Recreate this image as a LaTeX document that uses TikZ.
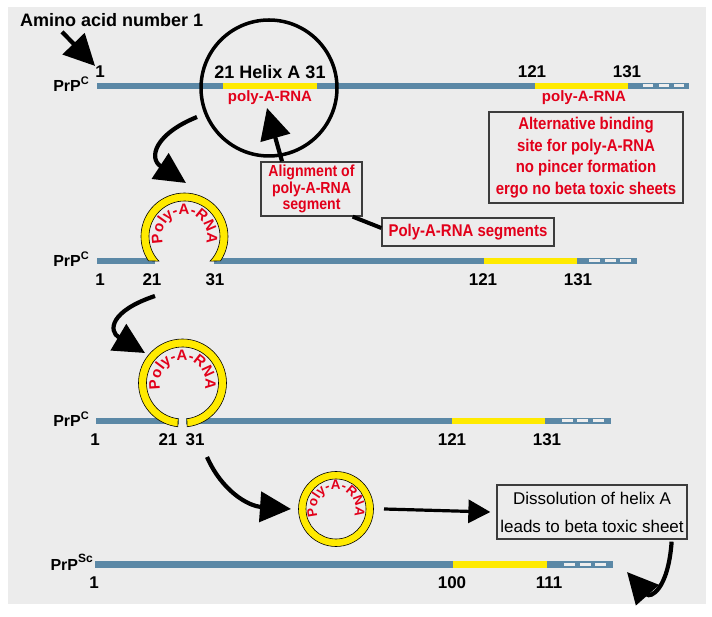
\documentclass[tikz,border=0pt]{standalone}
\usepackage{fontspec}
\setmainfont{Liberation Sans}
\newfontfamily\narrowfont[FakeStretch=0.88]{Liberation Sans}
\usetikzlibrary{arrows.meta,calc,decorations.text}

\definecolor{bgGray}{HTML}{ECECEC}
\definecolor{barBlue}{HTML}{5B88A6}
\definecolor{dashWhite}{HTML}{EEEEEE}
\definecolor{rnaYellow}{HTML}{FFEA00}
\definecolor{rnaRed}{HTML}{E2001A}
\definecolor{boxLine}{HTML}{3C3C3C}

\tikzset{
  num/.style={font=\bfseries\fontsize{17}{17}\selectfont, inner sep=0pt},
  prp/.style={font=\bfseries\fontsize{16}{16}\selectfont, inner sep=0pt, anchor=base east},
  rnalbl/.style={text=rnaRed, font=\bfseries\fontsize{15}{15}\selectfont, inner sep=0pt},
  redbox/.style={draw=boxLine, line width=1.3pt, text=rnaRed, align=center, inner sep=0pt},
  ringfill/.style={fill=rnaYellow, draw=black, line width=0.6pt},
  ringtext/.style={decorate, decoration={text along path, text align=center,
      text color=rnaRed, text={|\bfseries\fontsize{#1}{#1}\selectfont|Poly-A-RNA}}},
  bigarrow/.style={line width=4.2pt, -{Triangle[length=31pt,width=30pt]}},
  midarrow/.style={line width=3.2pt, -{Triangle[length=22pt,width=23pt]}}
}

\begin{document}
\begin{tikzpicture}[x=1pt,y=1pt]
  \useasboundingbox (0,0) rectangle (712,616);
  % grey panel
  \fill[bgGray] (8,12) rectangle (706,609);

  % ---- row 1: PrP^C, helix A ----
  \fill[barBlue] (97,527) rectangle (689,533);
  \fill[rnaYellow] (223,527) rectangle (317,533);
  \fill[rnaYellow] (535,527) rectangle (628,533);
  \foreach \x in {643,659,674} \fill[dashWhite] (\x,528.5) rectangle ++(10,3);
  \node[prp] (prp1) at (89,524) {PrP\raisebox{7pt}{\fontsize{11}{11}\selectfont C}};
  \node[num] (r1n1) at (100,544) {1};
  \node[font=\bfseries\fontsize{18}{18}\selectfont, inner sep=0pt] (helix) at (270,544) {21 Helix A 31};
  \node[num] (r1n121) at (532,544) {121};
  \node[num] (r1n131) at (627,544) {131};
  \node[rnalbl] (rna1) at (270,518) {poly-A-RNA};
  \node[rnalbl] (rna2) at (584,518) {poly-A-RNA};
  % circle round helix A
  \node[circle, draw, line width=3.5pt, minimum size=136pt, inner sep=0pt] (helixcirc) at (269,528) {};

  \node[anchor=west, font=\bfseries\fontsize{18}{18}\selectfont, inner sep=0pt] (amino) at (20,596) {Amino acid number 1};
  \draw[bigarrow] ($(amino.south west)+(42,-5)$) -- (r1n1.north west);

  % boxes
  \node[redbox, minimum width=194pt, minimum height=91pt,
        font=\narrowfont\bfseries\fontsize{17}{21.7}\selectfont] (altbox) at (586,458.5)
        {Alternative binding\\site for poly-A-RNA\\no pincer formation\\ergo no beta toxic sheets};
  \node[redbox, minimum width=101pt, minimum height=54pt,
        font=\narrowfont\bfseries\fontsize{16}{16.7}\selectfont] (align) at (311.5,427)
        {Alignment of\\poly-A-RNA\\segment};
  \node[redbox, minimum width=172pt, minimum height=28pt,
        font=\narrowfont\bfseries\fontsize{17}{17}\selectfont] (segs) at (468,384)
        {Poly-A-RNA segments};
  \coordinate (aligntip) at (267,508);
  \draw[bigarrow] ([xshift=-29.5pt]align.north) -- (aligntip);
  \draw[line width=4pt] ([xshift=-10pt]align.south east) -- ([yshift=4pt]segs.west);

  % ---- row 2: pincer ----
  \coordinate (loop2) at (184.5,379.5);
  \fill[barBlue] (97,352) rectangle (155,358);
  \fill[barBlue] (214,352) rectangle (637,358);
  \fill[rnaYellow] (484,352) rectangle (577,358);
  \foreach \x in {589,605,620} \fill[dashWhite] (\x,353.5) rectangle ++(11,3);
  \filldraw[ringfill] ($(loop2)+(-34:43.5)$) arc[start angle=-34, end angle=214, radius=43.5]
     -- ($(loop2)+(224:35.5)$) arc[start angle=224, end angle=-44, radius=35.5] -- cycle;
  \path[ringtext=15] ($(loop2)+(210:22.5)$) arc[start angle=210, end angle=-30, radius=22.5];
  \node[prp] (prp2) at (89,349) {PrP\raisebox{7pt}{\fontsize{11}{11}\selectfont C}};
  \node[num] (r2n1) at (100,336) {1};
  \node[num] (r2n21) at (152,336) {21};
  \node[num] (r2n31) at (215,336) {31};
  \node[num] (r2n121) at (483,336) {121};
  \node[num] (r2n131) at (578,336) {131};
  \coordinate (a1s) at (197,499);
  \coordinate (a1e) at (186,433);
  \draw[bigarrow] (a1s) .. controls (155,482) and (148,458) .. (a1e);

  % ---- row 3: closed loop ----
  \coordinate (loop3) at (182.5,233);
  \fill[barBlue] (96,192) rectangle (179,198);
  \fill[barBlue] (186,192) rectangle (611,198);
  \fill[rnaYellow] (452,192) rectangle (545,198);
  \foreach \x in {562,577,593} \fill[dashWhite] (\x,193.5) rectangle ++(10.5,3);
  \filldraw[ringfill] ($(loop3)+(-84:44)$) arc[start angle=-84, end angle=264, radius=44]
     -- ($(loop3)+(263:36)$) arc[start angle=263, end angle=-83, radius=36] -- cycle;
  \path[ringtext=15] ($(loop3)+(210:23)$) arc[start angle=210, end angle=-30, radius=23];
  \node[prp] (prp3) at (89,189) {PrP\raisebox{7pt}{\fontsize{11}{11}\selectfont C}};
  \node[num] (r3n1) at (95,176) {1};
  \node[num] (r3n21) at (168,176) {21};
  \node[num] (r3n31) at (195,176) {31};
  \node[num] (r3n121) at (452,176) {121};
  \node[num] (r3n131) at (547,176) {131};
  \coordinate (a2s) at (155,320);
  \coordinate (a2e) at (145,263);
  \draw[bigarrow] (a2s) .. controls (110,305) and (108,285) .. (a2e);

  % ---- row 4: PrP^Sc ----
  \coordinate (loop4) at (336,107);
  \fill[barBlue] (95,48.5) rectangle (613,55.5);
  \fill[rnaYellow] (453,48.5) rectangle (547,55.5);
  \foreach \x in {564,580,595} \fill[dashWhite] (\x,50.5) rectangle ++(11,3);
  \filldraw[ringfill, even odd rule] (loop4) circle (37.5) (loop4) circle (30);
  \path[ringtext=13.5] ($(loop4)+(222:19.5)$) arc[start angle=222, end angle=-42, radius=19.5];
  \node[prp] (prp4) at (93,46) {PrP\raisebox{8pt}{\fontsize{12}{12}\selectfont Sc}};
  \node[num] (r4n1) at (94,33) {1};
  \node[num] (r4n100) at (452,33) {100};
  \node[num] (r4n111) at (549,33) {111};
  \node[draw=boxLine, line width=1.3pt, minimum width=190pt, minimum height=54pt, inner sep=0pt,
        align=center, font=\fontsize{17}{28}\selectfont] (diss) at (592,104)
        {Dissolution of helix A\\leads to beta toxic sheet};
  \coordinate (a3s) at (207,159);
  \coordinate (a3e) at (291,107);
  \draw[bigarrow] (a3s) .. controls (222,125) and (248,110) .. (a3e);
  \draw[midarrow] ($(loop4)+(48,0)$) -- ([xshift=-6pt]diss.west);
  \coordinate (a4e) at (627,44);
  \draw[bigarrow] ([xshift=-16pt,yshift=-2pt]diss.south east) .. controls (668,25) and (650,18) .. (a4e);
\end{tikzpicture}
\end{document}
